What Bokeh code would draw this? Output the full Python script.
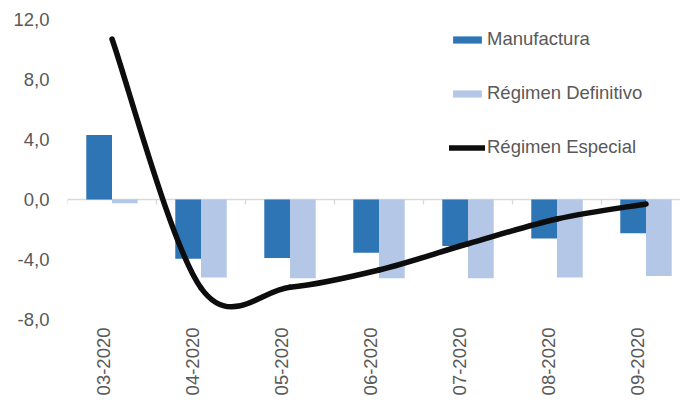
import math
from bokeh.plotting import figure
from bokeh.models import Legend, LegendItem, FixedTicker, ColumnDataSource, Range1d
from bokeh.embed import file_html
from bokeh.resources import INLINE

# ---- data ----
months = ["03-2020", "04-2020", "05-2020", "06-2020", "07-2020", "08-2020", "09-2020"]
manufactura = [4.3, -3.95, -3.9, -3.55, -3.1, -2.6, -2.25]
definitivo = [-0.25, -5.2, -5.25, -5.25, -5.25, -5.2, -5.1]
especial = [10.7, -5.9, -5.85, -4.7, -2.95, -1.3, -0.3]
y_ticks = [-8, -4, 0, 4, 8, 12]
y_tick_labels = ["-8,0", "-4,0", "0,0", "4,0", "8,0", "12,0"]

# ---- styles ----
DARK = "#2E75B6"
LIGHT = "#B4C7E7"
TXT = "#595959"
FONT = "Liberation Sans"
FS = "18.5px"

n = len(months)
xs = list(range(n))
bar_w = 0.289
label_shift = -0.09

p = figure(width=680, height=407, output_backend="svg", toolbar_location=None,
           min_border_left=67, min_border_right=0, min_border_top=19, min_border_bottom=88,
           x_range=Range1d(-0.5, -0.5 + 613 / 89.0), y_range=Range1d(-8, 12))
p.outline_line_color = None
p.xgrid.visible = False
p.ygrid.visible = False
p.background_fill_color = "white"
p.border_fill_color = "white"

# zero line with category boundary ticks
p.segment(x0=[-0.5], y0=[0], x1=[n - 0.5], y1=[0], line_color="#D9D9D9", line_width=1.3)
bounds = [i - 0.5 for i in range(n + 1)]
p.segment(x0=bounds, y0=[0] * len(bounds), x1=bounds, y1=[-5 / 15.0] * len(bounds),
          line_color="#D9D9D9", line_width=1.3)

r1 = p.vbar(x=[x - bar_w / 2 for x in xs], top=manufactura, bottom=0, width=bar_w,
            fill_color=DARK, line_color=None)
r2 = p.vbar(x=[x + bar_w / 2 for x in xs], top=definitivo, bottom=0, width=bar_w,
            fill_color=LIGHT, line_color=None)

# smoothed line (Catmull-Rom style bezier through the data points)
def pt(i):
    i = max(0, min(n - 1, i))
    return xs[i], especial[i]

bz = dict(x0=[], y0=[], x1=[], y1=[], cx0=[], cy0=[], cx1=[], cy1=[])
for i in range(n - 1):
    xa, ya = pt(i)
    xb, yb = pt(i + 1)
    xp, yp = pt(i - 1)
    xn, yn = pt(i + 2)
    bz["x0"].append(xa); bz["y0"].append(ya)
    bz["x1"].append(xb); bz["y1"].append(yb)
    bz["cx0"].append(xa + (xb - xp) / 6.0); bz["cy0"].append(ya + (yb - yp) / 6.0)
    bz["cx1"].append(xb - (xn - xa) / 6.0); bz["cy1"].append(yb - (yn - ya) / 6.0)
p.bezier(x0="x0", y0="y0", x1="x1", y1="y1", cx0="cx0", cy0="cy0", cx1="cx1", cy1="cy1",
         source=ColumnDataSource(bz), line_color="#0D0D0D", line_width=5.5, line_cap="round")
# single-point line: draws nothing itself, provides the legend swatch
r3 = p.line(x=[xs[0]], y=[especial[0]], line_color="#0D0D0D", line_width=5.5, line_cap="round")

# axes
yax = p.yaxis[0]
yax.ticker = FixedTicker(ticks=y_ticks)
yax.major_label_overrides = {t: l for t, l in zip(y_ticks, y_tick_labels)}
yax.axis_line_color = None
yax.major_tick_line_color = None
yax.minor_tick_line_color = None
yax.major_tick_out = 0
yax.major_tick_in = 0
yax.major_label_standoff = 18
yax.major_label_text_font = FONT
yax.major_label_text_font_size = FS
yax.major_label_text_color = TXT

xticks = [x + label_shift for x in xs]
xax = p.xaxis[0]
xax.ticker = FixedTicker(ticks=xticks)
xax.major_label_overrides = {t: m for t, m in zip(xticks, months)}
xax.major_label_orientation = math.pi / 2
xax.axis_line_color = None
xax.major_tick_line_color = None
xax.minor_tick_line_color = None
xax.major_tick_out = 0
xax.major_tick_in = 0
xax.major_label_standoff = 8
xax.major_label_text_font = FONT
xax.major_label_text_font_size = FS
xax.major_label_text_color = TXT

legend = Legend(items=[LegendItem(label="Manufactura", renderers=[r1]),
                       LegendItem(label="Régimen Definitivo", renderers=[r2]),
                       LegendItem(label="Régimen Especial", renderers=[r3])],
                location=(382, 161), orientation="vertical",
                glyph_width=36, glyph_height=9, label_standoff=2, spacing=32,
                padding=0, margin=0, border_line_color=None, background_fill_alpha=0,
                label_text_font=FONT, label_text_font_size=FS, label_text_color=TXT)
p.add_layout(legend, "center")

open("out.html", "w").write(file_html(p, INLINE))
